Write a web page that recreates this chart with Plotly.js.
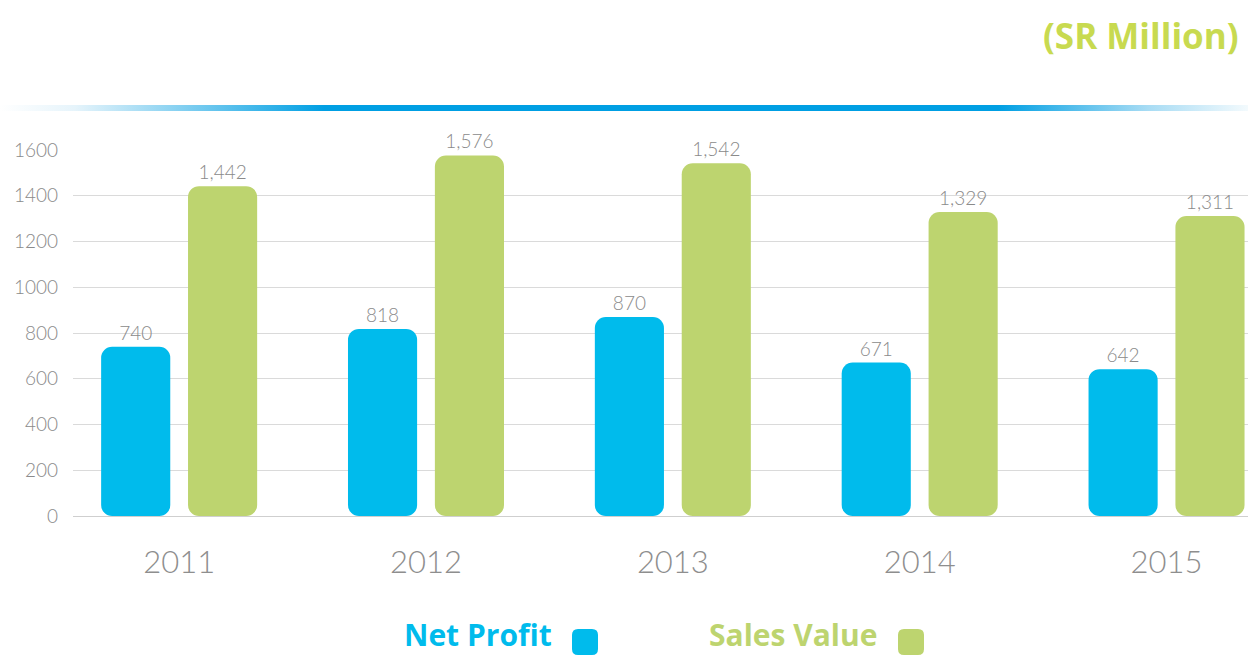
<!DOCTYPE html>
<html>
<head>
<meta charset="utf-8">
<script src="https://cdn.plot.ly/plotly-3.0.1.min.js"></script>
<style>
html,body{margin:0;padding:0;background:#fff;}
#chart{width:1248px;height:655px;}
</style>
</head>
<body>
<div id="chart"></div>
<script>
// ---- data ----
const years = ['2011', '2012', '2013', '2014', '2015'];
const netProfit = [740, 818, 870, 671, 642];
const salesValue = [1442, 1576, 1542, 1329, 1311];
const yTicks = [0, 200, 400, 600, 800, 1000, 1200, 1400, 1600];
const unitLabel = '(SR Million)';
const seriesNames = ['Net Profit', 'Sales Value'];

// ---- styles ----
const BLUE = '#00bbec';
const GREEN = '#bdd46f';
const TITLE_GREEN = '#c8da50';
const GRAY = '#8a8a8a';
const NUM_FONT = 'Lato, "Open Sans", sans-serif';
const BOLD_FONT = '"Open Sans", "Noto Sans", sans-serif';
const BAR_W = 0.28;
const OFF_NP = -0.316;
const OFF_SV = 0.036;
const RADIUS = 11;

function series(vals, color, offset, name) {
  return {
    type: 'bar', x: years, y: vals, name: name, showlegend: false,
    base: vals.map(() => 0),   // explicit base -> both bar ends get rounded corners
    width: BAR_W, offset: offset,
    marker: {color: color, cornerradius: RADIUS, line: {width: 0}},
    texttemplate: '%{y:,}',
    textposition: 'outside', cliponaxis: false, constraintext: 'none',
    textfont: {family: NUM_FONT, size: 19, color: GRAY, weight: 300},
    hovertemplate: name + ' %{x}: %{y:,}<extra></extra>'
  };
}

const traces = [
  series(netProfit, BLUE, OFF_NP, seriesNames[0]),
  series(salesValue, GREEN, OFF_SV, seriesNames[1])
];

// plot area geometry (pixels) for paper placement of decorations
const L = 73, R = 0, T = 150, B = 139, W = 1248, H = 655;
const PW = W - L - R, PH = H - T - B;
const px = x => (x - L) / PW;
const py = y => (H - B - y) / PH;

const gradSvg = '<svg xmlns="http://www.w3.org/2000/svg" width="1248" height="6" preserveAspectRatio="none">' +
  '<defs><linearGradient id="g" x1="0" x2="1" y1="0" y2="0">' +
  '<stop offset="0" stop-color="#ffffff"/>' +
  '<stop offset="0.06" stop-color="#e6f4fb"/>' +
  '<stop offset="0.26" stop-color="#009fe3"/>' +
  '<stop offset="0.80" stop-color="#009fe3"/>' +
  '<stop offset="0.92" stop-color="#a8dcf4"/>' +
  '<stop offset="1" stop-color="#f3fafd"/>' +
  '</linearGradient></defs><rect width="1248" height="6" fill="url(#g)"/></svg>';
const gradUri = 'data:image/svg+xml;base64,' + btoa(gradSvg);

const rr = 'M-7,-13 H7 Q13,-13 13,-7 V7 Q13,13 7,13 H-7 Q-13,13 -13,7 V-7 Q-13,-13 -7,-13 Z';

const layout = {
  width: W, height: H,
  margin: {l: L, r: R, t: T, b: B, pad: 0},
  paper_bgcolor: '#ffffff', plot_bgcolor: '#ffffff',
  barmode: 'overlay',
  showlegend: false,
  font: {family: NUM_FONT, color: GRAY},
  xaxis: {
    type: 'category', range: [-0.43, 4.33],
    showgrid: false, zeroline: false, showline: false, ticks: '',
    ticklabelstandoff: 25,
    tickfont: {family: NUM_FONT, size: 31, color: '#8e8e8e', weight: 300},
    fixedrange: true
  },
  yaxis: {
    range: [0, 1600], tickvals: yTicks, ticktext: yTicks.map(String),
    showgrid: true, gridcolor: '#dadada', gridwidth: 1,
    zeroline: true, zerolinecolor: '#cfcfcf', zerolinewidth: 1,
    showline: false, ticks: '', ticklabelstandoff: 14,
    tickfont: {family: NUM_FONT, size: 19, color: GRAY, weight: 300},
    fixedrange: true
  },
  images: [{
    source: gradUri, xref: 'paper', yref: 'paper',
    x: px(0), y: py(105), sizex: W / PW, sizey: 6 / PH,
    xanchor: 'left', yanchor: 'top', sizing: 'stretch', layer: 'above'
  }],
  annotations: [
    {text: '<b>' + unitLabel + '</b>', xref: 'paper', yref: 'paper',
     x: px(1241), y: py(35), xanchor: 'right', yanchor: 'middle', showarrow: false,
     font: {family: BOLD_FONT, size: 35, color: TITLE_GREEN}},
    {text: '<b>' + seriesNames[0] + '</b>', xref: 'paper', yref: 'paper',
     x: px(554), y: py(634), xanchor: 'right', yanchor: 'middle', showarrow: false,
     font: {family: BOLD_FONT, size: 30, color: BLUE}},
    {text: '<b>' + seriesNames[1] + '</b>', xref: 'paper', yref: 'paper',
     x: px(879), y: py(634), xanchor: 'right', yanchor: 'middle', showarrow: false,
     font: {family: BOLD_FONT, size: 30, color: GREEN}}
  ],
  shapes: [
    {type: 'path', xref: 'paper', yref: 'paper', xsizemode: 'pixel', ysizemode: 'pixel',
     xanchor: px(585), yanchor: py(642), path: rr, fillcolor: BLUE, line: {width: 0}},
    {type: 'path', xref: 'paper', yref: 'paper', xsizemode: 'pixel', ysizemode: 'pixel',
     xanchor: px(911), yanchor: py(642), path: rr, fillcolor: GREEN, line: {width: 0}}
  ]
};

Plotly.newPlot('chart', traces, layout, {displayModeBar: false, staticPlot: false, responsive: false});
</script>
</body>
</html>
